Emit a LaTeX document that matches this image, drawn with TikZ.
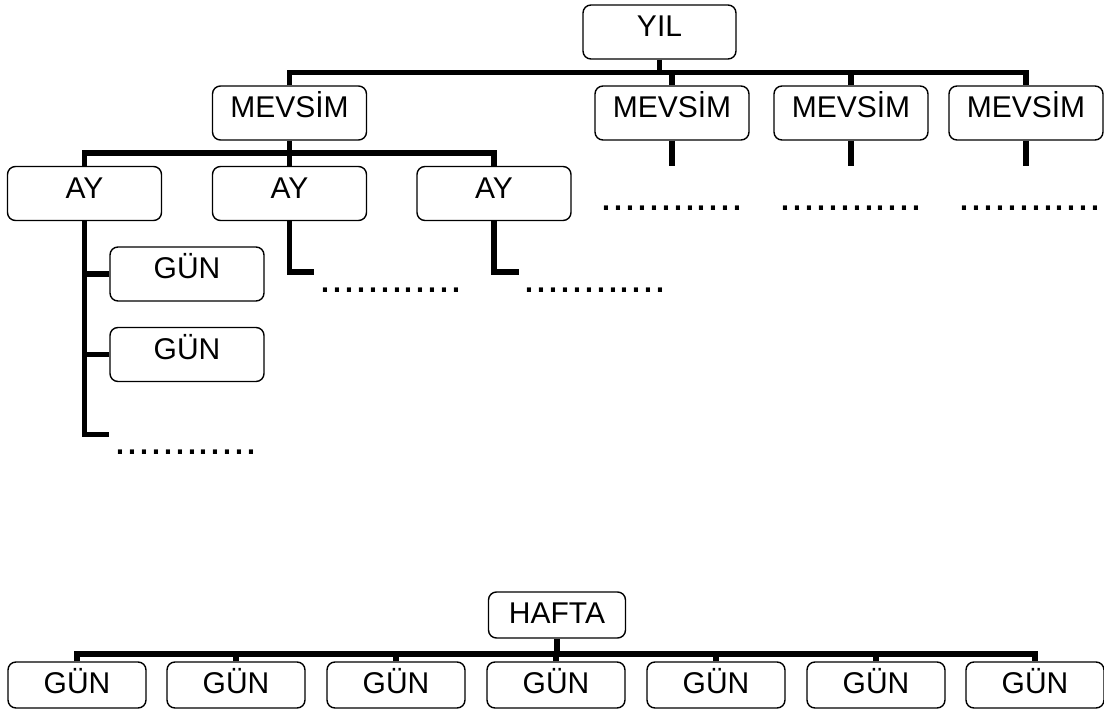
\documentclass[tikz,border=0pt]{standalone}
\usepackage{fontspec}
\setmainfont{Liberation Sans}
\begin{document}
\begin{tikzpicture}[x=1pt,y=-1pt,
  box/.style={draw,line width=1.4pt,rounded corners=8pt,minimum width=154pt,
    minimum height=54pt,inner sep=0pt,font=\fontsize{30}{32}\selectfont,
    text height=22pt,text depth=12.5pt},
  daybox/.style={box,minimum width=138pt,minimum height=46pt,text depth=5.5pt},
  conn/.style={line width=5.5pt,line join=miter},
  dots/.style={inner sep=0pt,font=\fontsize{43}{43}\selectfont}]
\useasboundingbox (0,0) rectangle (1104,709);

% --- year tree ---
\node[box,minimum width=153pt] (yil) at (659.5,32) {YIL};
\node[box] (m1) at (289.5,113) {MEVSİM};
\node[box] (m2) at (672,113) {MEVSİM};
\node[box] (m3) at (851,113) {MEVSİM};
\node[box] (m4) at (1026,113) {MEVSİM};
\coordinate (bar1) at (0,72.5);
\draw[conn] (m1.north) -- (m1.north |- bar1) -- (m4.north |- bar1) -- (m4.north);
\draw[conn] (yil.south) -- (yil.south |- bar1);
\draw[conn] (m2.north) -- (m2.north |- bar1);
\draw[conn] (m3.north) -- (m3.north |- bar1);

% stubs under the other seasons
\coordinate (m2e) at (672,166);
\coordinate (m3e) at (851,166);
\coordinate (m4e) at (1026,166);
\draw[conn] (m2.south) -- (m2e);
\draw[conn] (m3.south) -- (m3e);
\draw[conn] (m4.south) -- (m4e);
\node[dots] (dm2) at (672,208) {............};
\node[dots] (dm3) at (851,208) {............};
\node[dots] (dm4) at (1030,208) {............};

% months
\node[box] (ay1) at (84.5,193.5) {AY};
\node[box] (ay2) at (289.5,193.5) {AY};
\node[box] (ay3) at (494,193.5) {AY};
\coordinate (bar2) at (0,153);
\draw[conn] (m1.south) -- (m1.south |- bar2);
\draw[conn] (ay1.north) -- (ay1.north |- bar2) -- (ay3.north |- bar2) -- (ay3.north);
\draw[conn] (ay2.north) -- (ay2.north |- bar2);

% days of the first month
\node[box] (g1) at (187,274) {GÜN};
\node[box] (g2) at (187,354.5) {GÜN};
\coordinate (a1e) at (109,434.5);
\draw[conn] (ay1.south) -- (ay1.south |- a1e) -- (a1e);
\draw[conn] (g1.west) -- (g1.west -| ay1.south);
\draw[conn] (g2.west) -- (g2.west -| ay1.south);
\node[dots] (d1) at (186,452.5) {............};

% the other months
\coordinate (a2e) at (314,272);
\coordinate (a3e) at (519,272);
\draw[conn] (ay2.south) |- (a2e);
\draw[conn] (ay3.south) |- (a3e);
\node[dots] (d2) at (391,290) {............};
\node[dots] (d3) at (595,290) {............};

% --- week tree ---
\node[daybox,minimum width=137pt] (hafta) at (557,615) {HAFTA};
\node[daybox] (w1) at (77,685) {GÜN};
\node[daybox] (w2) at (236,685) {GÜN};
\node[daybox] (w3) at (396,685) {GÜN};
\node[daybox] (w4) at (556,685) {GÜN};
\node[daybox] (w5) at (716,685) {GÜN};
\node[daybox] (w6) at (876,685) {GÜN};
\node[daybox] (w7) at (1035,685) {GÜN};
\coordinate (bar3) at (0,654);
\draw[conn] (hafta.south) -- (hafta.south |- bar3);
\draw[conn] (w1.north) -- (w1.north |- bar3) -- (w7.north |- bar3) -- (w7.north);
\foreach \w in {w2,w3,w4,w5,w6}
  \draw[conn] (\w.north) -- (\w.north |- bar3);
\end{tikzpicture}
\end{document}
